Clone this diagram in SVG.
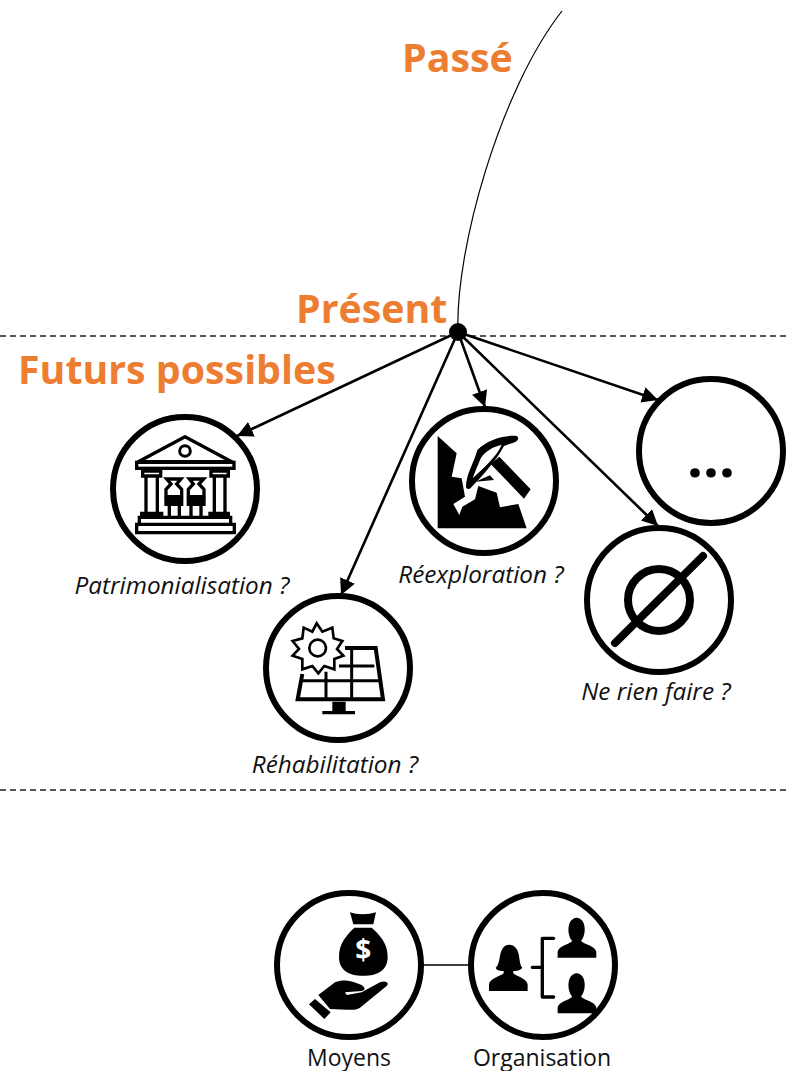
<svg xmlns="http://www.w3.org/2000/svg" width="786" height="1071" viewBox="0 0 786 1071">
<style>
.h{font-family:"Open Sans","Liberation Sans",sans-serif;font-weight:700;font-size:39.3px;fill:#ed7d31}
.q{font-family:"Open Sans","Liberation Sans",sans-serif;font-style:italic;font-size:24.3px;fill:#111;text-anchor:middle}
.l{font-family:"Open Sans","Liberation Sans",sans-serif;font-size:23px;fill:#111;text-anchor:middle}
.c{fill:#fff;stroke:#000;stroke-width:6}
.a{stroke:#000;stroke-width:2.6;fill:none;marker-end:url(#ah)}
.d{stroke:#222;stroke-width:1.3;stroke-dasharray:6 4;fill:none}
.o{fill:none;stroke:#000}
.k{fill:#000}
</style>
<defs>
<marker id="ah" markerUnits="userSpaceOnUse" markerWidth="18" markerHeight="18" refX="16" refY="8" orient="auto"><path d="M0 0L16 8L0 16Z" fill="#000"/></marker>
</defs>
<g id="axes">
<path class="d" d="M0 336H786"/>
<path class="d" d="M0 790H786"/>
</g>
<g id="connectors">
<path d="M458 332C455 250 500 90 562 11" fill="none" stroke="#000" stroke-width="1.2"/>
<path class="a" d="M458 332L237 436"/>
<path class="a" d="M458 332L341 595"/>
<path class="a" d="M458 332L485 407"/>
<path class="a" d="M458 332L658 400"/>
<path class="a" d="M458 332L658 526"/>
<path d="M423 965H468" stroke="#000" stroke-width="1.4"/>
<circle cx="458" cy="332" r="9" class="k"/>
</g>
<g id="labels">
<text class="h" x="402" y="72">Passé</text>
<text class="h" x="296" y="323">Présent</text>
<text class="h" x="18" y="384">Futurs possibles</text>
</g>
<g id="patrimonialisation">
<circle class="c" cx="185" cy="489" r="72"/>
<g transform="translate(100 400) scale(.3333)">
<path class="o" stroke-width="10" stroke-linejoin="round" d="M255 110L395 185H115Z"/>
<circle class="o" stroke-width="9" cx="255" cy="153" r="16"/>
<rect class="o" stroke-width="10" x="110" y="187" width="292" height="18"/>
<path class="o" stroke-width="10" d="M128 213H182V228H128ZM333 213H385V228H333ZM138 228V340H172V228M343 228V340H375V228M125 340H185V350H125ZM330 340H385V350H330ZM118 352H392V373H118ZM110 373H403V398H110Z"/>
<path class="o" stroke-width="10" d="M200 237H243L230 252L245 268V290H198V268L213 252ZM268 237H311L297 252L312 268V290H265V268L280 252Z"/>
<path class="k" d="M193 292H250V318H193ZM260 292H317V318H260Z"/>
<path class="o" stroke-width="10" d="M208 318V350M238 318V350M273 318V350M303 318V350"/>
</g>
<text class="q" x="182" y="594">Patrimonialisation ?</text>
</g>
<g id="reexploration">
<circle class="c" cx="484" cy="481" r="72"/>
<g transform="translate(400 400) scale(.3333)">
<path class="k" d="M113 108L170 160L155 230L185 235L195 290L160 312L178 345L187 320L225 298L235 258L290 278L300 322L355 312L380 385H113Z"/>
<path fill="#fff" d="M178 182H196V235L185 232Z"/>
<path class="k" d="M298 170L392 268L372 296L272 192Z"/>
<path class="k" d="M198 262C198 220 222 190 232 150C262 120 310 105 350 108C360 115 352 125 340 128L312 138C290 180 250 225 212 264C208 268 200 268 198 262Z"/>
<path fill="#fff" d="M218 235C250 205 290 170 305 134C272 142 248 160 240 180C232 200 224 218 218 235Z"/>
<path class="k" d="M226 245L270 226L282 240Z"/>
</g>
<text class="q" x="481" y="583">Réexploration ?</text>
</g>
<g id="rehabilitation">
<circle class="c" cx="338" cy="668" r="72"/>
<g transform="translate(255 590) scale(.3333)">
<path class="o" stroke-width="12" stroke-linejoin="miter" d="M270 174H362L384 328H128L142 252"/>
<path class="o" stroke-width="9" d="M252 228H358M140 272H375M290 174V328M213 245V328"/>
<path class="k" d="M232 335H272V363H300V373H202V363H232Z"/>
<path fill="#fff" stroke="#000" stroke-width="8" stroke-linejoin="miter" d="M185 100L202 125L232 113L236 145L262 153L246 177L265 197L238 207L238 238L208 228L190 250L172 228L142 238L142 207L113 197L132 177L113 153L142 145L146 113L172 125Z"/>
<circle class="o" stroke-width="8" cx="188" cy="174" r="25"/>
</g>
<text class="q" x="335" y="773">Réhabilitation ?</text>
</g>
<g id="etc">
<circle class="c" cx="711" cy="451" r="72"/>
<text x="711" y="477" font-family="'Open Sans','Liberation Sans',sans-serif" font-size="56" font-weight="700" fill="#000" text-anchor="middle">...</text>
</g>
<g id="rien">
<circle class="c" cx="659" cy="600" r="72"/>
<circle class="o" stroke-width="8" cx="659" cy="600" r="31"/>
<path d="M615 643L703 556" stroke="#000" stroke-width="8" stroke-linecap="round"/>
<text class="q" x="656" y="700">Ne rien faire ?</text>
</g>
<g id="moyens">
<circle class="c" cx="349" cy="965" r="72"/>
<g transform="translate(265 885) scale(.3333)">
<path class="k" d="M255 82C275 90 310 90 333 82L325 118H265ZM268 128H320C345 150 368 175 368 215C368 255 340 272 295 272C250 272 222 255 222 215C222 175 245 150 268 128Z"/>
<text x="295" y="225" font-family="'Open Sans','Liberation Sans',sans-serif" font-weight="700" font-size="84" fill="#fff" text-anchor="middle">$</text>
<path class="k" d="M160 330L210 292C235 282 260 288 280 296C300 302 305 315 290 318L240 322L245 330L290 322L345 292C360 285 375 292 365 303L285 368C275 375 260 375 245 374L195 372ZM132 358L150 342L197 382L178 402Z"/>
</g>
<text class="l" x="349" y="1066">Moyens</text>
</g>
<g id="organisation">
<circle class="c" cx="543" cy="965" r="72"/>
<g transform="translate(265 885) scale(.3333)">
<path class="k" d="M672 318V298C675 280 705 275 716 265V258C700 258 692 252 692 248C705 240 703 205 712 192C720 175 745 175 755 192C765 205 762 240 772 248C770 252 760 258 745 258V265C755 275 785 280 788 298V318Z"/>
<path class="k" d="M878 218V200C882 182 910 180 922 168C905 150 905 100 935 98C965 100 965 150 948 168C960 180 990 182 994 200V218Z"/>
<path class="k" d="M878 385V367C882 349 910 347 922 335C905 317 905 267 935 265C965 267 965 317 948 335C960 347 990 349 994 367V385Z"/>
<path class="o" stroke-width="10" stroke-linecap="round" stroke-linejoin="round" d="M866 160H832V336H866M802 247H832"/>
</g>
<text class="l" x="542" y="1066">Organisation</text>
</g>
</svg>
